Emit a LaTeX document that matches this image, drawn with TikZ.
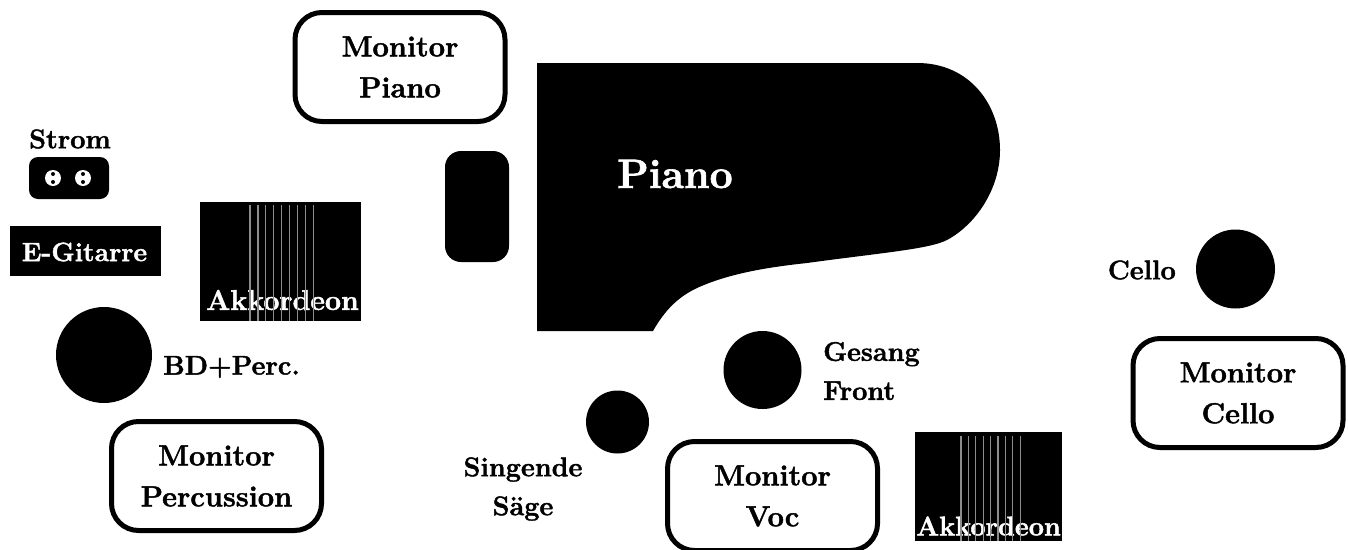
\documentclass[tikz,border=0pt]{standalone}
\usepackage{fontspec}
\setmainfont{Latin Modern Roman}[BoldFeatures={FakeBold=1.6}]
\begin{document}
\begin{tikzpicture}[x=1pt,y=-1pt,
  lbl/.style={font=\fontsize{27}{27}\selectfont\bfseries,align=center,inner sep=0pt,text=black},
  wlbl/.style={lbl,text=white},
  mon/.style={draw=black,line width=5pt,rounded corners=27pt,fill=white,minimum width=210pt,minimum height=109pt,inner sep=0pt,anchor=center,
    font=\fontsize{29}{41}\selectfont\bfseries,align=center},
  solid/.style={fill=black,draw=none},
  reed/.style={draw=black!45,line width=1.3pt}]
\useasboundingbox (0,0) rectangle (1348,549);
\fill[white] (0,0) rectangle (1348,549);
% piano
\path[solid] (537,63) -- (917,63) .. controls (970,63) and (1000,105) .. (1000,150)
  .. controls (1000,190) and (975,225) .. (947,240)
  .. controls (930,249) and (880,253) .. (807,263)
  .. controls (770,267) and (730,273) .. (697,288)
  .. controls (678,297) and (665,310) .. (653,331) -- (537,331) -- cycle;
\node[wlbl,font=\fontsize{41}{41}\selectfont\bfseries] (piano) at (675,174) {Piano};
\node[solid,rounded corners=16pt,minimum width=64pt,minimum height=111pt,inner sep=0pt] (bench) at (477,206.5) {};
% monitors
\node[mon] (mp) at (400,67) {Monitor\\Piano};
\node[mon] (mperc) at (216.5,476) {Monitor\\Percussion};
\node[mon] (mv) at (772.5,496) {Monitor\\Voc};
\node[mon] (mc) at (1238,393) {Monitor\\Cello};
% strom
\node[lbl] (strom) at (70,139) {Strom};
\node[solid,rounded corners=9pt,minimum width=80pt,minimum height=42pt,inner sep=0pt] (dose) at (69,178) {};
\foreach \n/\x in {a/53,b/83}{
  \node[circle,fill=white,minimum size=16pt,inner sep=0pt] (s\n) at (\x,178) {};
  \fill[black] (s\n.center) ++(0,-4) circle (2pt);
  \fill[black] (s\n.center) ++(0,4) circle (2pt);
}
% e-gitarre
\node[solid,minimum width=151pt,minimum height=50pt,inner sep=0pt] (eg) at (85.5,251) {};
\node[wlbl,font=\fontsize{26.5}{27}\selectfont\bfseries] (egl) at (84.5,252) {E-Gitarre};
% akkordeon 1
\node[solid,minimum width=161pt,minimum height=119pt,inner sep=0pt] (ak1) at (280.5,261.5) {};
\node[wlbl,font=\fontsize{28.5}{27}\selectfont\bfseries] (ak1l) at (282.5,300) {Akkordeon};
\foreach \i in {0,...,8}{
  \draw[reed] (250+\i*7.9,205) -- (250+\i*7.9,321);
}
% akkordeon 2
\node[solid,minimum width=147pt,minimum height=109pt,inner sep=0pt] (ak2) at (988.5,486.5) {};
\node[wlbl] (ak2l) at (988.5,526) {Akkordeon};
\foreach \i in {0,...,8}{
  \draw[reed] (961+\i*7.4,436) -- (961+\i*7.4,541);
}
% circles
\node[solid,circle,minimum size=96pt,inner sep=0pt] (bd) at (104,355) {};
\node[lbl,anchor=west] (bdl) at (163,367) {BD+Perc.};
\node[solid,circle,minimum size=79pt,inner sep=0pt] (cello) at (1235.5,269) {};
\node[lbl,anchor=east] (cl) at (1176,270) {Cello};
\node[solid,circle,minimum size=78pt,inner sep=0pt] (ges) at (762.5,370) {};
\node[lbl,font=\fontsize{27}{39}\selectfont\bfseries,anchor=west,align=left] (gl) at (823,371) {Gesang\\Front};
\node[solid,circle,minimum size=63pt,inner sep=0pt] (saw) at (617.5,422) {};
\node[lbl,font=\fontsize{27}{39}\selectfont\bfseries] (sl) at (523,489) {Singende\\S\"age};
\end{tikzpicture}
\end{document}
